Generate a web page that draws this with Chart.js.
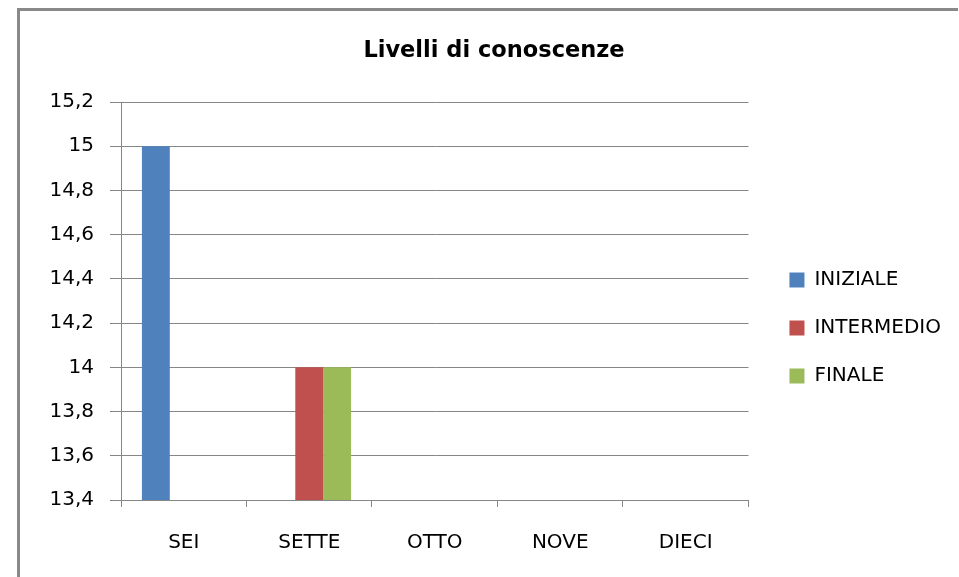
<!DOCTYPE html>
<html>
<head>
<meta charset="utf-8">
<script src="https://cdn.jsdelivr.net/npm/chart.js@4"></script>
<style>
  html, body { margin: 0; padding: 0; background: #ffffff; }
  #wrap { position: relative; width: 959px; height: 577px; }
</style>
</head>
<body>
<div id="wrap"><canvas id="c" width="959" height="577"></canvas></div>
<script>
// ---- data ----
const chartTitle = 'Livelli di conoscenze';
const categories = ['SEI', 'SETTE', 'OTTO', 'NOVE', 'DIECI'];
const seriesNames = ['INIZIALE', 'INTERMEDIO', 'FINALE'];
const iniziale   = [15, null, null, null, null];
const intermedio = [null, 14, null, null, null];
const finale     = [null, 14, null, null, null];
const yMin = 13.4;
const yMax = 15.2;
const yStep = 0.2;

// ---- styles ----
const colors = ['#4F81BD', '#C0504D', '#9BBB59'];
const gridColor = '#868686';
const fontFamily = '"DejaVu Sans", sans-serif';

const framePlugin = {
  id: 'frame',
  beforeDraw(chart) {
    const ctx = chart.ctx;
    ctx.save();
    ctx.fillStyle = '#ffffff';
    ctx.fillRect(0, 0, chart.width, chart.height);
    ctx.fillStyle = '#898989';
    ctx.fillRect(17, 8, chart.width - 18, 3);
    ctx.fillRect(17, 8, 3, chart.height - 8);
    ctx.restore();
  }
};

new Chart(document.getElementById('c'), {
  type: 'bar',
  data: {
    labels: categories,
    datasets: [
      { label: seriesNames[0], data: iniziale,   backgroundColor: colors[0] },
      { label: seriesNames[1], data: intermedio, backgroundColor: colors[1] },
      { label: seriesNames[2], data: finale,     backgroundColor: colors[2] }
    ]
  },
  options: {
    responsive: false,
    animation: false,
    devicePixelRatio: 1,
    datasets: { bar: { categoryPercentage: 3 / 4.5, barPercentage: 1.0, borderWidth: 0 } },
    layout: { padding: { left: 37, right: 8, top: 10, bottom: 0 } },
    plugins: {
      title: {
        display: true,
        text: chartTitle,
        color: '#000000',
        font: { family: fontFamily, size: 22.5, weight: 'bold', lineHeight: 1.2 },
        padding: { top: 28, bottom: 37 }
      },
      legend: {
        display: true,
        position: 'right',
        fullSize: false,
        align: 'center',
        title: { display: true, text: ' ', font: { size: 20, lineHeight: 1.2 }, padding: { top: 15, bottom: 15 } },
        labels: {
          boxWidth: 15,
          boxHeight: 15,
          padding: 28,
          color: '#000000',
          font: { family: fontFamily, size: 20 }
        }
      },
      tooltip: { enabled: false }
    },
    scales: {
      x: {
        offset: true,
        afterFit(scale) { scale.height = 77; },
        grid: { display: true, drawOnChartArea: false, drawTicks: true, tickLength: 7, color: gridColor, offset: true },
        border: { display: true, color: gridColor },
        ticks: { color: '#000000', padding: 24, font: { family: fontFamily, size: 20 }, maxRotation: 0 }
      },
      y: {
        min: yMin,
        max: yMax,
        afterFit(scale) { scale.width = 84; },
        grid: { color: gridColor, tickLength: 11, drawTicks: true },
        border: { display: true, color: gridColor },
        ticks: {
          stepSize: yStep,
          color: '#000000',
          padding: 16,
          font: { family: fontFamily, size: 20 },
          callback: (v) => String(Math.round(v * 10) / 10).replace('.', ',')
        }
      },
      yPad: {
        position: 'right',
        display: false,
        afterFit(scale) { scale.width = 13; }
      }
    }
  },
  plugins: [framePlugin]
});
</script>
</body>
</html>
